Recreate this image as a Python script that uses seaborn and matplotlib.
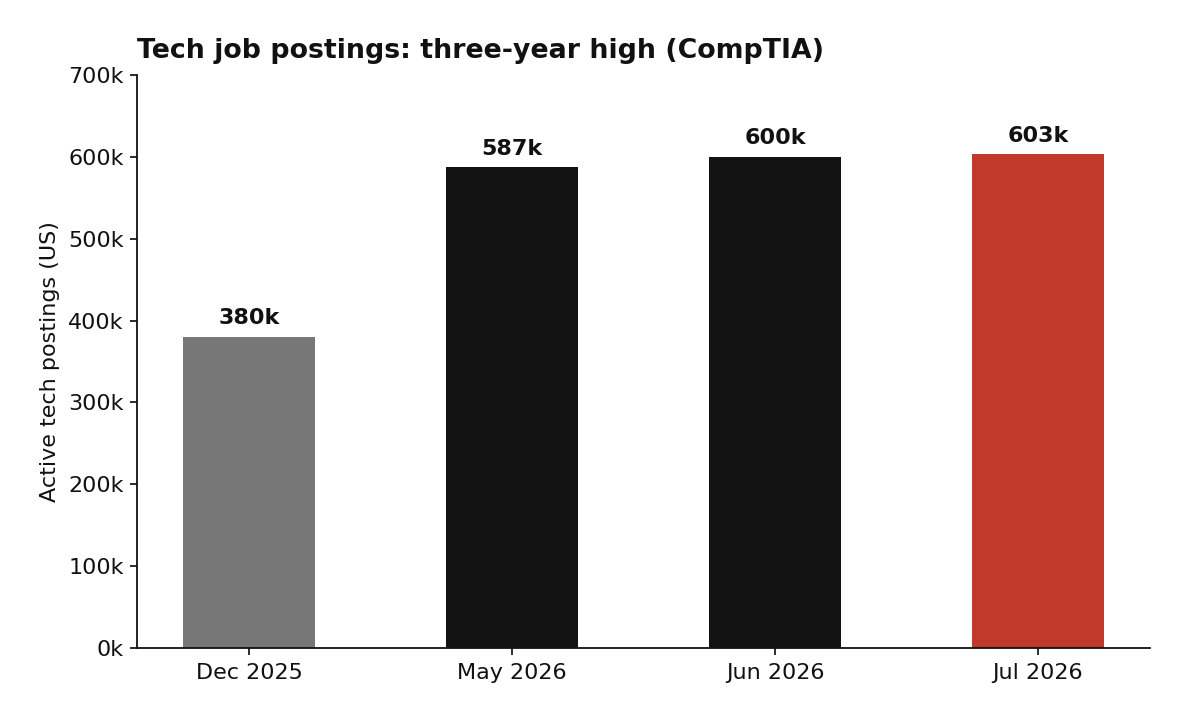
import matplotlib
matplotlib.use("Agg")
import matplotlib.pyplot as plt
import seaborn as sns
import pandas as pd
from matplotlib.ticker import FuncFormatter

categories = ["Dec 2025", "May 2026", "Jun 2026", "Jul 2026"]
values = [380000, 587000, 600000, 603000]
labels = ["380k", "587k", "600k", "603k"]
colors = ["#777777", "#131313", "#131313", "#c0392b"]

sns.set_theme(style="ticks")
plt.rcParams['font.family'] = ['DejaVu Sans']

df = pd.DataFrame({"month": categories, "postings": values})

fig = plt.figure(figsize=(11.87, 7.22), dpi=100)
ax = fig.add_axes([137/1187, 1-648/722, (1150-137)/1187, (648-75)/722])
sns.barplot(data=df, x="month", y="postings", hue="month", palette=colors,
            width=0.5, legend=False, ax=ax, saturation=1, linewidth=0)

for i, (v, l) in enumerate(zip(values, labels)):
    ax.text(i, v + 10500, l, ha="center", va="bottom", fontsize=16,
            fontweight="bold", color="#111111")

ax.set_xlim(-0.426, 3.426)
ax.set_ylim(0, 700000)
ax.set_yticks(range(0, 700001, 100000))
ax.yaxis.set_major_formatter(FuncFormatter(lambda x, p: f"{int(x/1000)}k"))
ax.set_xlabel("")
ax.set_ylabel("Active tech postings (US)", fontsize=16, color="#111111", labelpad=6)
ax.tick_params(axis="both", labelsize=16, colors="#111111", length=5)
ax.tick_params(axis="y", pad=4.5)
ax.tick_params(axis="x", pad=6)
ax.set_title("Tech job postings: three-year high (CompTIA)", loc="left",
             fontsize=19.3, fontweight="bold", color="#111111", pad=12)
for s in ["top", "right"]:
    ax.spines[s].set_visible(False)
for s in ["left", "bottom"]:
    ax.spines[s].set_color("#111111")
    ax.spines[s].set_linewidth(1.3)

fig.savefig("out.png", dpi=100)
